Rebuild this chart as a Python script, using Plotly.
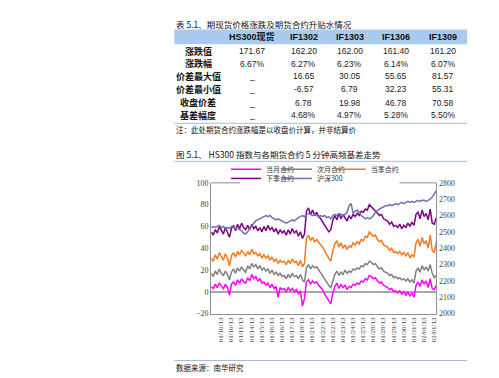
import plotly.graph_objects as go

W, H = 499, 378

# ---------------- table data ----------------
table_title = "表 5.1、期现货价格涨跌及期货合约升贴水情况"
table_header = ["", "HS300现货", "IF1302", "IF1303", "IF1306", "IF1309"]
row_labels = ["涨跌值", "涨跌幅", "价差最大值", "价差最小值", "收盘价差", "基差幅度"]
col_hs300 = ["171.67", "6.67%", "_", "_", "_", "_"]
col_if1302 = ["162.20", "6.27%", "16.65", "-6.57", "6.78", "4.68%"]
col_if1303 = ["162.00", "6.23%", "30.05", "6.79", "19.98", "4.97%"]
col_if1306 = ["161.40", "6.14%", "55.65", "32.23", "46.78", "5.28%"]
col_if1309 = ["161.20", "6.07%", "81.57", "55.31", "70.58", "5.50%"]
table_note = "注：此处期货合约涨跌幅是以收盘价计算，并非结算价"

# ---------------- chart data ----------------
fig_caption = "图 5.1、 HS300 指数与各期货合约 5 分钟高频基差走势"
source_text = "数据来源：南华研究"
series_names = ["当月合约", "次月合约", "当季合约", "下季合约", "沪深300"]
date_labels = ["01/10/13", "01/10/13", "01/11/13", "01/14/13", "01/15/13", "01/16/13",
               "01/16/13", "01/17/13", "01/18/13", "01/21/13", "01/22/13", "01/22/13",
               "01/23/13", "01/24/13", "01/25/13", "01/28/13", "01/28/13", "01/29/13",
               "01/30/13", "01/31/13", "02/01/13", "02/01/13"]

current_month = [5, 3, 7, 4, 8, 6, 3, 7, 4, -3,
                 7, 9, 6, 11, 8, 12, 9, 8,
                 13, 10, 16, 12, 14, 10, 12, 8,
                 9, 6, 8, 4, 7, 3, 5, -5, 4, 2,
                 3, 0, 4, 1, 3, 0, 2, -2, 1, -13, -6,
                 9, 11, 7, 10, 8, 9, 6,
                 4, 2, -2, -5, -8, -11, -1,
                 5, 8, 3, 7, 4, 6, 2, 5, 4, 7,
                 6, 8, 7, 10, 9, 12, 11, 15, 14,
                 12, 13, 10, 8, 9, 6, 5,
                 4, 2, 3, 0, 1, -1, 1, -2, 0,
                 -3, 0, -4, -1, -5, 6,
                 9, 5, 11, 7, 10, 4, 12, 3, 2, 6]
next_month = [17, 14, 19, 16, 21, 17, 15, 19, 16, 11,
              18, 21, 17, 22, 19, 23, 20, 18,
              24, 21, 26, 23, 25, 21, 24, 20,
              22, 19, 21, 17, 20, 16, 18, 15, 17, 14,
              15, 12, 16, 13, 17, 14, 15, 12, 16, 11, 9,
              22, 25, 21, 24, 22, 23, 20,
              17, 15, 12, 9, 6, 4, 10,
              16, 19, 15, 18, 16, 20, 17, 19, 18, 21,
              20, 22, 21, 24, 23, 26, 25, 28, 27,
              25, 26, 23, 21, 22, 19, 18,
              17, 15, 16, 13, 14, 12, 13, 11, 12,
              10, 12, 9, 11, 8, 19,
              22, 18, 24, 20, 23, 19, 25, 17, 13, 15]
current_quarter = [31, 28, 34, 30, 36, 32, 29, 35, 31, 24,
                   33, 36, 32, 37, 34, 38, 35, 33,
                   37, 34, 39, 35, 36, 33, 35, 31,
                   34, 31, 33, 29, 32, 28, 30, 26, 29, 27,
                   28, 25, 29, 26, 30, 27, 28, 24, 29, 23, 26,
                   49, 52, 47, 50, 46, 48, 45,
                   43, 41, 37, 34, 31, 28, 38,
                   44, 47, 41, 45, 40, 43, 39, 42, 41, 45,
                   43, 46, 44, 48, 47, 51, 50, 55, 53,
                   51, 52, 48, 46, 47, 43, 42,
                   41, 38, 40, 36, 37, 35, 37, 34, 36,
                   33, 36, 31, 34, 32, 45,
                   48, 42, 50, 44, 47, 40, 52, 38, 36, 46]
next_quarter = [55, 52, 57, 54, 60, 56, 53, 59, 55, 50,
                58, 61, 56, 62, 58, 63, 59, 57,
                61, 57, 62, 58, 60, 56, 59, 55,
                60, 56, 61, 57, 59, 55, 58, 53, 57, 54,
                56, 52, 57, 53, 58, 54, 56, 51, 55, 49, 53,
                74, 77, 71, 75, 70, 73, 69,
                67, 64, 61, 58, 55, 57, 66,
                70, 66, 72, 67, 71, 68, 65, 70, 67, 71,
                69, 72, 70, 74, 73, 76, 75, 80, 78,
                76, 75, 72, 70, 71, 67, 66,
                65, 62, 64, 60, 61, 59, 62, 58, 61,
                59, 63, 60, 64, 61, 71,
                73, 67, 75, 69, 72, 66, 76, 63, 62, 68]
hs300 = [2527, 2533, 2527, 2533, 2540, 2527, 2533, 2520, 2527, 2520,
         2533, 2527, 2520, 2527, 2513, 2507, 2493, 2487,
         2500, 2520, 2540, 2553, 2567, 2573, 2580, 2587,
         2593, 2600, 2593, 2600, 2587, 2580, 2573, 2580, 2573, 2567,
         2560, 2553, 2560, 2567, 2573, 2567, 2580, 2587, 2593, 2600, 2593,
         2607, 2613, 2607, 2600, 2607, 2600, 2593,
         2600, 2593, 2600, 2587, 2593, 2580, 2600,
         2607, 2600, 2613, 2607, 2600, 2607, 2620, 2660, 2673, 2613,
         2627, 2633, 2620, 2600, 2587, 2580, 2587, 2580, 2587,
         2600, 2620, 2633, 2640, 2647, 2653, 2660,
         2660, 2667, 2660, 2667, 2673, 2667, 2673, 2680, 2673,
         2680, 2687, 2680, 2687, 2680, 2687,
         2693, 2687, 2693, 2693, 2687, 2693, 2700, 2713, 2733, 2753]

colors = ["#FF00FF", "#808080", "#F5791F", "#800080", "#7070B0"]


def px_x(p):
    return p / W


def px_y(p):
    return 1 - p / H


n = len(hs300)
xs = list(range(n))

fig = go.Figure()

legend_keys = ["legend", "legend2", "legend3", "legend4", "legend5"]
series = [current_month, next_month, current_quarter, next_quarter]
for name, vals, col, lg in zip(series_names[:4], series, colors[:4], legend_keys[:4]):
    fig.add_trace(go.Scatter(x=xs, y=vals, mode="lines", name=name,
                             line=dict(color=col, width=1.5), legend=lg,
                             xaxis="x", yaxis="y"))
fig.add_trace(go.Scatter(x=xs, y=hs300, mode="lines", name=series_names[4],
                         line=dict(color=colors[4], width=1.5), legend="legend5",
                         xaxis="x", yaxis="y2"))

leg_common = dict(orientation="h", xanchor="left", yanchor="middle",
                  bgcolor="rgba(0,0,0,0)", borderwidth=0, itemwidth=30,
                  font=dict(family="Noto Sans CJK SC", size=7, color="#333"))
leg_pos = [(219, 161), (270, 161), (324, 161), (219, 170.5), (270, 170.5)]
layout_legends = {lg: dict(x=px_x(lx), y=px_y(ly), **leg_common)
                  for lg, (lx, ly) in zip(legend_keys, leg_pos)}

ticks = [4.8 + 5 * k for k in range(len(date_labels))]

fig.update_layout(
    width=W, height=H, margin=dict(l=0, r=0, t=0, b=0),
    paper_bgcolor="white", plot_bgcolor="white", showlegend=True,
    xaxis=dict(domain=[px_x(204), px_x(430)], range=[0, n - 1], tickmode="array",
               tickvals=ticks, ticktext=date_labels, tickangle=-90, showgrid=False,
               zeroline=False, showline=True, linecolor="#909090", linewidth=1,
               ticks="", tickfont=dict(family="Liberation Serif", size=7, color="#444")),
    yaxis=dict(domain=[px_y(309), px_y(175)], range=[-20, 100], dtick=20, showgrid=False,
               zeroline=True, zerolinecolor="#A8A8A8", zerolinewidth=2,
               showline=True, linecolor="#909090", linewidth=1, ticks="",
               tickfont=dict(family="Liberation Serif", size=8, color="#444")),
    yaxis2=dict(overlaying="y", side="right", range=[2000, 2800], dtick=100,
                showgrid=False, zeroline=False, showline=True, linecolor="#909090",
                linewidth=1, ticks="",
                tickfont=dict(family="Liberation Serif", size=8, color="#444")),
    **layout_legends,
)

# top frame of the plot, interrupted by the legend
for x0, x1 in ((204, 233), (393, 430)):
    fig.add_shape(type="line", xref="paper", yref="paper", x0=px_x(x0), x1=px_x(x1),
                  y0=px_y(175), y1=px_y(175), line=dict(color="#909090", width=1))

# ---------------- table drawn from the arrays ----------------
fig.add_shape(type="rect", xref="paper", yref="paper", x0=px_x(167), x1=px_x(461),
              y0=px_y(33), y1=px_y(18), fillcolor="#A9CBEF", line=dict(width=0), layer="below")
col_centers = [191, 245, 297, 343, 390, 437]
row_centers = [40, 53, 66, 79, 93, 106]
columns = [row_labels, col_hs300, col_if1302, col_if1303, col_if1306, col_if1309]
for cx, h in zip(col_centers, table_header):
    if h:
        fig.add_annotation(x=px_x(cx), y=px_y(25.5), xref="paper", yref="paper",
                           text=f"<b>{h}</b>", showarrow=False, xanchor="center", yanchor="middle",
                           font=dict(family="Liberation Sans, Noto Sans CJK SC", size=9, color="#111"))
for ci, (cx, col) in enumerate(zip(col_centers, columns)):
    for ry, v in zip(row_centers, col):
        if ci == 0:
            txt, fnt = f"<b>{v}</b>", dict(family="Noto Sans CJK SC", size=9, color="#111")
        else:
            txt, fnt = v, dict(family="Liberation Sans", size=8.5, color="#222")
        fig.add_annotation(x=px_x(cx), y=px_y(ry), xref="paper", yref="paper", text=txt,
                           showarrow=False, xanchor="center", yanchor="middle", font=fnt)

fig.add_annotation(x=px_x(167), y=px_y(12), xref="paper", yref="paper", text=table_title,
                   showarrow=False, xanchor="left", yanchor="middle",
                   font=dict(family="Noto Sans CJK SC", size=8.5, color="#111"))
fig.add_annotation(x=px_x(167), y=px_y(120), xref="paper", yref="paper", text=table_note,
                   showarrow=False, xanchor="left", yanchor="middle",
                   font=dict(family="Noto Sans CJK SC", size=7.5, color="#111"))
fig.add_annotation(x=px_x(167), y=px_y(145), xref="paper", yref="paper", text=fig_caption,
                   showarrow=False, xanchor="left", yanchor="middle",
                   font=dict(family="Noto Sans CJK SC", size=8.5, color="#111"))
fig.add_annotation(x=px_x(167), y=px_y(364), xref="paper", yref="paper", text=source_text,
                   showarrow=False, xanchor="left", yanchor="middle",
                   font=dict(family="Noto Sans CJK SC", size=7.5, color="#111"))

for yl in (114, 153, 357):
    fig.add_shape(type="line", xref="paper", yref="paper", x0=px_x(167), x1=px_x(461),
                  y0=px_y(yl), y1=px_y(yl), line=dict(color="#A9BCCF", width=1))

fig.write_html("out.html")
